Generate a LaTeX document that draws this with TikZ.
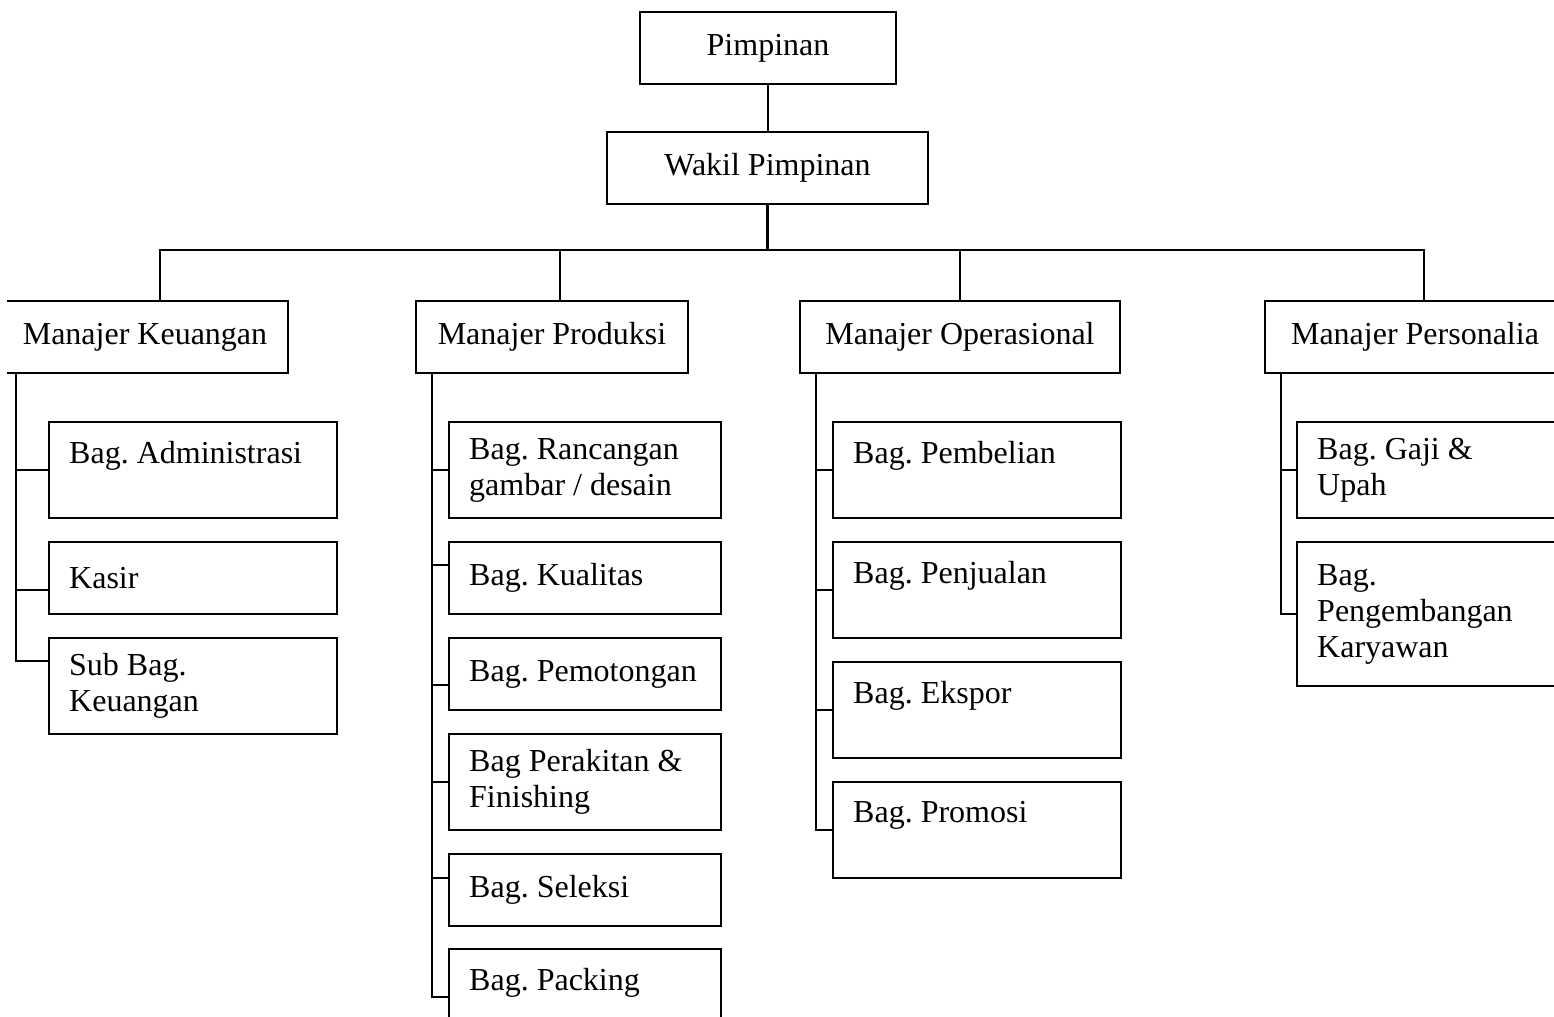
\documentclass[tikz,border=0pt]{standalone}
\usepackage{fontspec}
\setmainfont{Liberation Serif}
\usetikzlibrary{calc}
\newdimen\px \px=0.5pt
\frenchspacing
\hyphenpenalty=10000
\begin{document}
\begin{tikzpicture}[x=0.5pt,y=-0.5pt,
  line width=1.2pt,
  every node/.style={font=\fontsize{16}{18}\selectfont,
    execute at begin node={\spaceskip=4pt\relax}},
  % centred box: width, height
  cbox/.style n args={2}{draw, inner sep=0pt, align=center,
    minimum width=#1\px, minimum height=#2\px},
  % left-aligned unit box: text width, height
  lbox/.style n args={2}{draw, inner xsep=20\px, inner ysep=0pt, align=left,
    text width=#1\px, minimum height=#2\px, anchor=north west},
]
\useasboundingbox (0,0) rectangle (1554,1017);
\clip (7,0) rectangle (1554,1017);

% top management
\node[cbox={256}{72}] (pim) at (768,48) {Pimpinan};
\node[cbox={321}{72}] (wak) at (767.5,168) {Wakil Pimpinan};

% managers
\node[cbox={286}{72}] (keu) at (145,337) {Manajer Keuangan};
\node[cbox={272}{72}] (prd) at (552,337) {Manajer Produksi};
\node[cbox={320}{72}] (ops) at (960,337) {Manajer Operasional};
\node[cbox={300}{72}] (per) at (1415,337) {Manajer Personalia};

% finance units
\node[lbox={248}{96}] (adm) at (48,421) {Bag. Administrasi\\\mbox{}};
\node[lbox={248}{72}] (kas) at (48,541) {Kasir};
\node[lbox={248}{96}] (sbk) at (48,637) {Sub Bag.\\Keuangan};

% production units
\node[lbox={232}{96}] (ran) at (448,421) {Bag. Rancangan\\gambar / desain};
\node[lbox={232}{72}] (kua) at (448,541) {Bag. Kualitas};
\node[lbox={232}{72}] (pot) at (448,637) {Bag. Pemotongan};
\node[lbox={232}{96}] (rak) at (448,733) {Bag Perakitan \&\\Finishing};
\node[lbox={232}{72}] (sel) at (448,853) {Bag. Seleksi};
\node[lbox={232}{96}] (pac) at (448,948) {Bag. Packing\\\mbox{}};

% operations units
\node[lbox={248}{96}] (pem) at (832,421) {Bag. Pembelian\\\mbox{}};
\node[lbox={248}{96}] (pen) at (832,541) {Bag. Penjualan\\\mbox{}};
\node[lbox={248}{96}] (eks) at (832,661) {Bag. Ekspor\\\mbox{}};
\node[lbox={248}{96}] (prm) at (832,781) {Bag. Promosi\\\mbox{}};

% personnel units
\node[lbox={232}{96}] (gaj) at (1296,421) {Bag. Gaji \&\\Upah};
\node[lbox={232}{144}] (kar) at (1296,541) {Bag.\\Pengembangan\\Karyawan};

% bus and drop points
\coordinate (bus) at (768,250);
\coordinate (dk) at (160,250);
\coordinate (dp) at (560,250);
\coordinate (do) at (960,250);
\coordinate (dr) at (1424,250);

% trunk columns
\coordinate (tk) at (16,0);
\coordinate (tp) at (432,0);
\coordinate (to) at (816,0);
\coordinate (tr) at (1281,0);

% top links
\draw (pim.south) -- (pim.south |- wak.north);
\draw (wak.south) -- (wak.south |- bus);
\draw (dk |- keu.north) -- (dk) -- (dr) -- (dr |- per.north);
\draw (dp) -- (dp |- prd.north);
\draw (do) -- (do |- ops.north);

% finance branches
\draw (keu.south -| tk) |- ($(sbk.west)+(0,-25)$);
\draw (keu.south -| tk) |- (adm.west);
\draw (keu.south -| tk) |- ($(kas.west)+(0,12)$);

% production branches
\draw (prd.south -| tp) |- (pac.west);
\draw (prd.south -| tp) |- (ran.west);
\draw (prd.south -| tp) |- ($(kua.west)+(0,-13)$);
\draw (prd.south -| tp) |- ($(pot.west)+(0,11)$);
\draw (prd.south -| tp) |- (rak.west);
\draw (prd.south -| tp) |- ($(sel.west)+(0,-12)$);

% operations branches
\draw (ops.south -| to) |- (prm.west);
\draw (ops.south -| to) |- (pem.west);
\draw (ops.south -| to) |- (pen.west);
\draw (ops.south -| to) |- (eks.west);

% personnel branches
\draw (per.south -| tr) |- (kar.west);
\draw (per.south -| tr) |- (gaj.west);
\end{tikzpicture}
\end{document}
